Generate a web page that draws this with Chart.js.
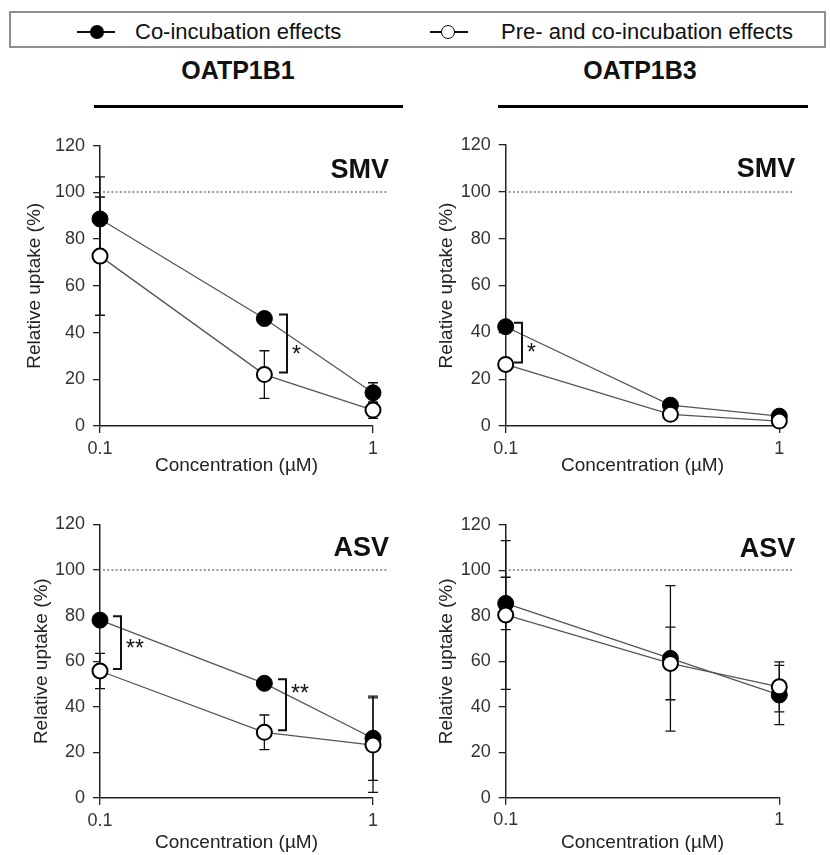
<!DOCTYPE html>
<html>
<head>
<meta charset="utf-8">
<script src="https://cdn.jsdelivr.net/npm/chart.js@4.4.0/dist/chart.umd.min.js"></script>
<style>
  body { margin: 0; background: #fff; font-family: "Liberation Sans", Arial, sans-serif; color: #111; }
  #wrap { position: relative; width: 830px; height: 855px; overflow: hidden; }
  .legend-box { position: absolute; left: 9px; top: 11px; width: 813px; height: 33px; border: 2px solid #8f8f8f; }
  .leg-line { position: absolute; height: 2px; background: #111; }
  .leg-dot { position: absolute; width: 14px; height: 14px; border-radius: 50%; box-sizing: border-box; }
  .leg-text { position: absolute; font-size: 22px; line-height: 22px; white-space: nowrap; }
  .head { position: absolute; width: 200px; text-align: center; font-size: 25px; line-height: 24px; font-weight: bold; }
  .rule { position: absolute; height: 3px; background: #000; }
  canvas { position: absolute; }
</style>
</head>
<body>
<div id="wrap">
  <div class="legend-box"></div>
  <div class="leg-line" style="left:77px; top:31px; width:38px;"></div>
  <div class="leg-dot" style="left:90px; top:25px; background:#000;"></div>
  <div class="leg-text" style="left:135px; top:21px;">Co-incubation effects</div>
  <div class="leg-line" style="left:430px; top:31px; width:38px;"></div>
  <div class="leg-dot" style="left:441px; top:25px; background:#fff; border:1.6px solid #000;"></div>
  <div class="leg-text" style="left:501px; top:21px;">Pre- and co-incubation effects</div>

  <div class="head" style="left:138px; top:58px;">OATP1B1</div>
  <div class="rule" style="left:94px; top:105px; width:309px;"></div>
  <div class="head" style="left:540px; top:58px;">OATP1B3</div>
  <div class="rule" style="left:498px; top:105px; width:310px;"></div>

  <canvas id="c0" width="415" height="360" style="left:0; top:120px;"></canvas>
  <canvas id="c1" width="415" height="360" style="left:415px; top:120px;"></canvas>
  <canvas id="c2" width="415" height="360" style="left:0; top:495px;"></canvas>
  <canvas id="c3" width="415" height="360" style="left:415px; top:495px;"></canvas>
</div>

<script>
// ---- data ----
const concentrations = [0.1, 0.4, 1];   // µM
const xTickValues = [0.1, 1];
const seriesNames = ['Co-incubation effects', 'Pre- and co-incubation effects'];

// OATP1B1 / SMV
const b1SmvCo = [88.6, 46.0, 14.2];
const b1SmvCoErr = [18, 1.5, 4.3];
const b1SmvPre = [72.7, 22.0, 6.8];
const b1SmvPreErr = [25.3, 10.2, 3.5];
const b1SmvSig = [{ i: 1, label: '*' }];

// OATP1B3 / SMV
const b3SmvCo = [42.4, 8.9, 4.2];
const b3SmvCoErr = [0, 0, 0];
const b3SmvPre = [26.3, 5.0, 2.1];
const b3SmvPreErr = [0, 0, 0];
const b3SmvSig = [{ i: 0, label: '*' }];

// OATP1B1 / ASV
const b1AsvCo = [78.0, 50.3, 26.2];
const b1AsvCoErr = [2, 1.5, 18.5];
const b1AsvPre = [55.7, 28.8, 23.2];
const b1AsvPreErr = [7.7, 7.6, 20.7];
const b1AsvSig = [{ i: 0, label: '**' }, { i: 1, label: '**' }];

// OATP1B3 / ASV
const b3AsvCo = [85.5, 61.3, 45.2];
const b3AsvCoErr = [11.5, 32, 13];
const b3AsvPre = [80.4, 59.1, 48.8];
const b3AsvPreErr = [32.7, 16, 11];
const b3AsvSig = [];

const controlLevel = 100;

// ---- layout of the four panels (page pixels) ----
const FONT = '"Liberation Sans", Arial, sans-serif';
const panels = [
  { id: 'c0', name: 'SMV', co: b1SmvCo, coErr: b1SmvCoErr, pre: b1SmvPre, preErr: b1SmvPreErr, sig: b1SmvSig,
    top: 120, left: 0, area: { l: 100, r: 373, t: 145.6, b: 426 }, xTitleY: 466, yTitleX: 35,
    bracket: [{ dx: 23, star: 0.63 }] },
  { id: 'c1', name: 'SMV', co: b3SmvCo, coErr: b3SmvCoErr, pre: b3SmvPre, preErr: b3SmvPreErr, sig: b3SmvSig,
    top: 120, left: 415, area: { l: 505.7, r: 779.3, t: 145, b: 426 }, xTitleY: 466, yTitleX: 447,
    bracket: [{ dx: 16, star: 0.66 }] },
  { id: 'c2', name: 'ASV', co: b1AsvCo, coErr: b1AsvCoErr, pre: b1AsvPre, preErr: b1AsvPreErr, sig: b1AsvSig,
    top: 495, left: 0, area: { l: 100, r: 373, t: 524.4, b: 798 }, xTitleY: 843, yTitleX: 42,
    bracket: [{ dx: 21, star: 0.54 }, { dx: 22, star: 0.2 }] },
  { id: 'c3', name: 'ASV', co: b3AsvCo, coErr: b3AsvCoErr, pre: b3AsvPre, preErr: b3AsvPreErr, sig: b3AsvSig,
    top: 495, left: 415, area: { l: 505.7, r: 779.3, t: 525, b: 797.7 }, xTitleY: 843, yTitleX: 447,
    bracket: [] }
];

// error bars, reference line, brackets, panel name
const extras = {
  id: 'extras',
  beforeDatasetsDraw(chart, args, opts) {
    const { ctx, chartArea, scales: { x, y } } = chart;
    ctx.save();
    // dotted 100% line
    ctx.strokeStyle = '#7a7a7a';
    ctx.lineWidth = 1.6;
    ctx.setLineDash([2, 2.2]);
    const yr = Math.round(y.getPixelForValue(controlLevel));
    ctx.beginPath();
    ctx.moveTo(chartArea.left + 3, yr);
    ctx.lineTo(chartArea.right + 15, yr);
    ctx.stroke();
    ctx.setLineDash([]);

    // error bars
    ctx.strokeStyle = '#111';
    ctx.lineWidth = 1.3;
    chart.data.datasets.forEach(ds => {
      ds.errors.forEach((e, i) => {
        if (!e) return;
        const pt = ds.data[i];
        const px = x.getPixelForValue(pt.x);
        const yt = y.getPixelForValue(pt.y + e);
        const yb = y.getPixelForValue(pt.y - e);
        ctx.beginPath();
        ctx.moveTo(px, yt); ctx.lineTo(px, yb);
        ctx.moveTo(px - 5, yt); ctx.lineTo(px + 5, yt);
        ctx.moveTo(px - 5, yb); ctx.lineTo(px + 5, yb);
        ctx.stroke();
      });
    });
    ctx.restore();
  },
  afterDatasetsDraw(chart, args, opts) {
    const { ctx, chartArea, scales: { x, y } } = chart;
    const p = opts.panel;
    ctx.save();
    // significance brackets
    ctx.strokeStyle = '#111';
    ctx.lineWidth = 2;
    ctx.fillStyle = '#111';
    ctx.font = '23px ' + FONT;
    ctx.textAlign = 'left';
    ctx.textBaseline = 'middle';
    p.sig.forEach((s, k) => {
      const b = p.bracket[k];
      const bx = Math.round(x.getPixelForValue(concentrations[s.i]) + b.dx);
      const yt = y.getPixelForValue(p.co[s.i]) - 4;
      const yb = y.getPixelForValue(p.pre[s.i]) - 2;
      ctx.beginPath();
      ctx.moveTo(bx - 8, yt); ctx.lineTo(bx, yt); ctx.lineTo(bx, yb); ctx.lineTo(bx - 8, yb);
      ctx.stroke();
      ctx.fillText(s.label, bx + 5, yt + (yb - yt) * b.star + 5);
    });
    // drug name
    ctx.font = 'bold 27px ' + FONT;
    ctx.textAlign = 'right';
    ctx.textBaseline = 'alphabetic';
    ctx.fillText(p.name, chartArea.right + 16, chartArea.top + 32);
    ctx.restore();
  }
};

panels.forEach(p => {
  const canvas = document.getElementById(p.id);
  const W = canvas.width, H = canvas.height;
  const chartTop = p.area.t - p.top;
  const chartBottom = p.area.b - p.top;
  const yW = p.area.l - p.left;
  const xH = H - chartBottom;

  new Chart(canvas, {
    type: 'line',
    data: {
      datasets: [
        {
          label: seriesNames[0],
          data: p.co,
          errors: p.coErr,
          order: 2,
          borderColor: '#555',
          borderWidth: 1.3,
          pointRadius: 8,
          pointBackgroundColor: '#000',
          pointBorderColor: '#000',
          pointBorderWidth: 1,
          clip: false
        },
        {
          label: seriesNames[1],
          data: p.pre,
          errors: p.preErr,
          order: 1,
          borderColor: '#555',
          borderWidth: 1.3,
          pointRadius: 7.5,
          pointBackgroundColor: '#fff',
          pointBorderColor: '#000',
          pointBorderWidth: 2,
          clip: false
        }
      ].map(ds => Object.assign(ds, { data: ds.data.map((v, i) => ({ x: concentrations[i], y: v })) }))
    },
    options: {
      responsive: false,
      animation: false,
      devicePixelRatio: 1,
      layout: { padding: { left: 0, top: chartTop, right: W - (p.area.r - p.left), bottom: 0 } },
      plugins: {
        legend: { display: false },
        tooltip: { enabled: false },
        extras: { panel: p }
      },
      scales: {
        x: {
          type: 'logarithmic',
          min: 0.1,
          max: 1,
          afterBuildTicks: s => { s.ticks = xTickValues.map(v => ({ value: v })); },
          afterFit: s => { s.height = xH; },
          ticks: {
            callback: v => String(v),
            font: { size: 18, family: FONT },
            color: '#333',
            padding: 5,
            maxRotation: 0,
            autoSkip: false
          },
          grid: { drawOnChartArea: false, tickLength: 7, color: '#222', lineWidth: 1.3 },
          border: { color: '#222', width: 1.5 },
          title: {
            display: true,
            text: 'Concentration (µM)',
            font: { size: 19, family: FONT },
            color: '#222',
            padding: { top: 0, bottom: (p.top + H) - p.xTitleY - 11.4 }
          }
        },
        y: {
          min: 0,
          max: 120,
          afterFit: s => { s.width = yW; },
          ticks: {
            stepSize: 20,
            font: { size: 18, family: FONT },
            color: '#333',
            padding: 8
          },
          grid: { drawOnChartArea: false, tickLength: 7, color: '#222', lineWidth: 1.3 },
          border: { color: '#222', width: 1.5 },
          title: {
            display: true,
            text: 'Relative uptake (%)',
            font: { size: 19, family: FONT },
            color: '#222',
            padding: { top: p.yTitleX - p.left - 11.4, bottom: 0 }
          }
        }
      }
    },
    plugins: [extras]
  });
});
</script>
</body>
</html>
